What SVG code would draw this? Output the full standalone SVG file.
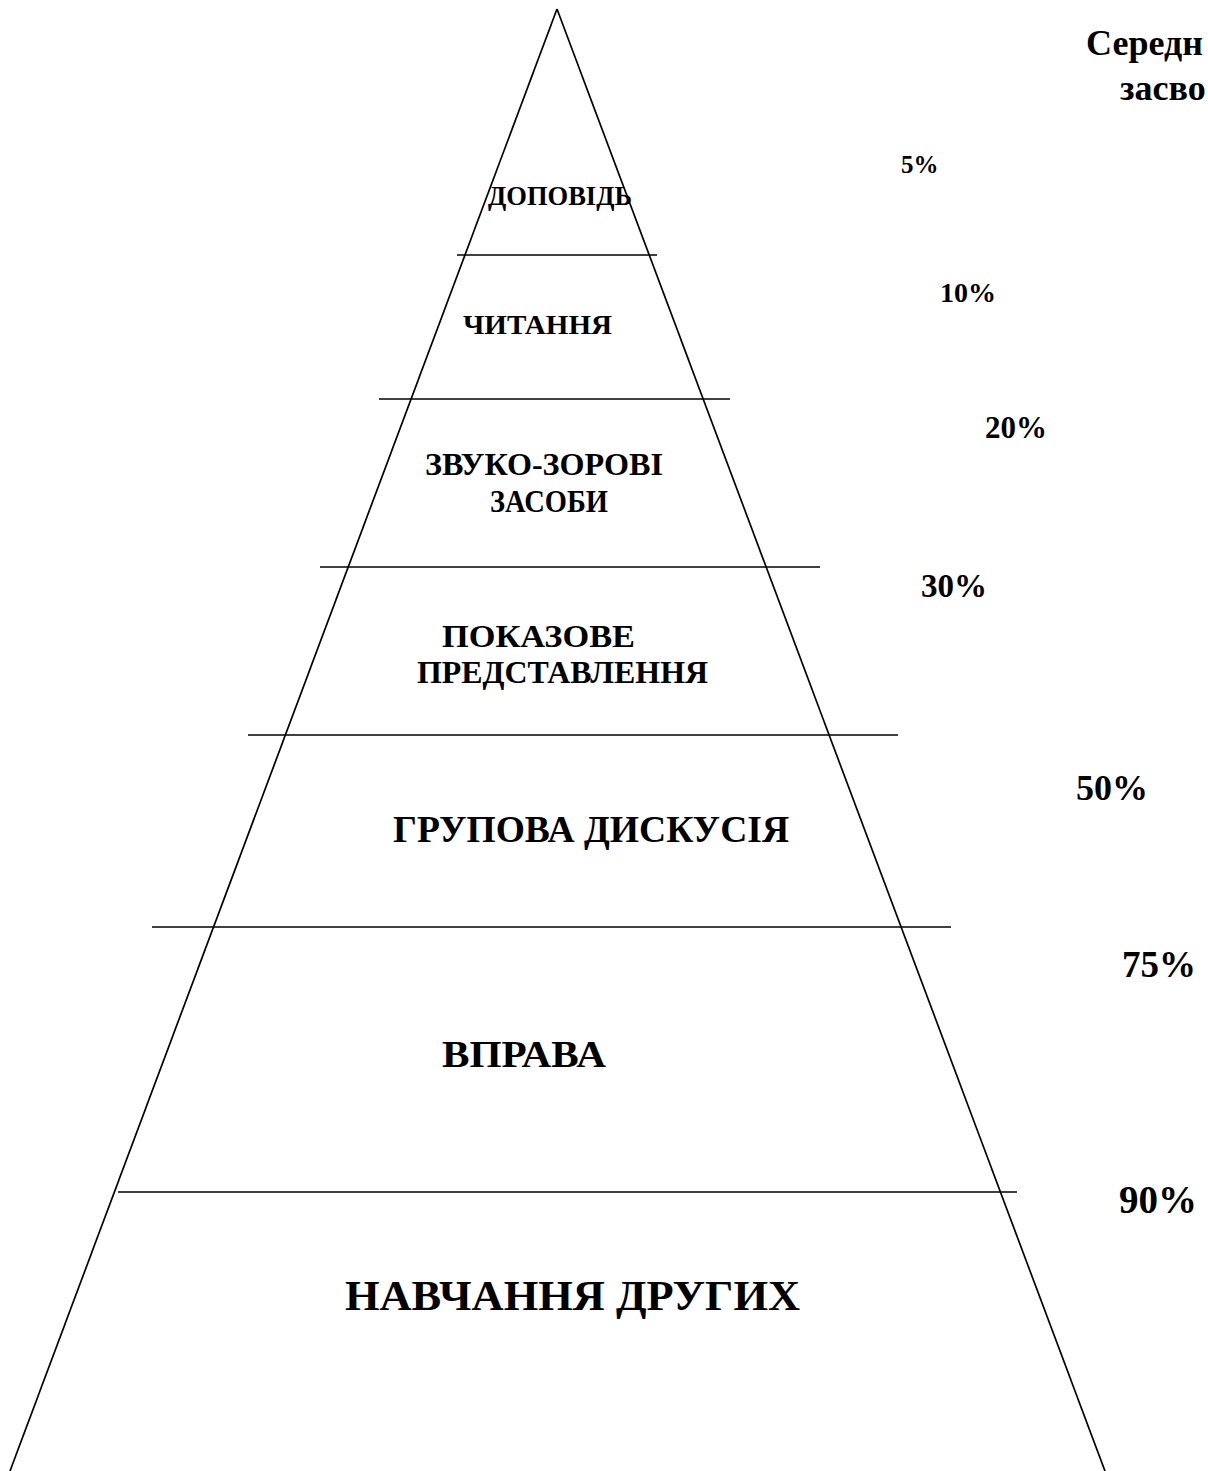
<svg xmlns="http://www.w3.org/2000/svg" width="1208" height="1471" viewBox="0 0 1208 1471">
<style>
text{font-family:"Liberation Serif","Times New Roman",serif;font-weight:bold;fill:#000}
.ln{stroke:#000;stroke-width:1.7;fill:none}
</style>
<rect width="1208" height="1471" fill="#fff"/>
<g id="connectors">
<line class="ln" x1="557" y1="9" x2="10" y2="1471"/>
<line class="ln" x1="557" y1="9" x2="1105" y2="1471"/>
<line class="ln" x1="457" y1="255" x2="657" y2="255"/>
<line class="ln" x1="379" y1="399" x2="730" y2="399"/>
<line class="ln" x1="320" y1="567" x2="820" y2="567"/>
<line class="ln" x1="248" y1="735" x2="898" y2="735"/>
<line class="ln" x1="152" y1="927" x2="951" y2="927"/>
<line class="ln" x1="118" y1="1192" x2="1017" y2="1192"/>
</g>
<g id="header">
<text x="1086" y="55" font-size="36">Середн</text>
<text x="1120" y="100" font-size="36">засво</text>
</g>
<g id="level1"><text x="488" y="205" font-size="27" textLength="144" lengthAdjust="spacingAndGlyphs">ДОПОВІДЬ</text></g>
<g id="level2"><text x="463" y="334" font-size="28" textLength="149" lengthAdjust="spacingAndGlyphs">ЧИТАННЯ</text></g>
<g id="level3"><text x="425" y="475" font-size="31" textLength="238" lengthAdjust="spacingAndGlyphs">ЗВУКО-ЗОРОВІ</text><text x="490" y="512" font-size="31" textLength="118" lengthAdjust="spacingAndGlyphs">ЗАСОБИ</text></g>
<g id="level4"><text x="442" y="647" font-size="32" textLength="193" lengthAdjust="spacingAndGlyphs">ПОКАЗОВЕ</text><text x="417" y="683" font-size="32" textLength="291" lengthAdjust="spacingAndGlyphs">ПРЕДСТАВЛЕННЯ</text></g>
<g id="level5"><text x="393" y="842" font-size="37" textLength="396" lengthAdjust="spacingAndGlyphs">ГРУПОВА ДИСКУСІЯ</text></g>
<g id="level6"><text x="442" y="1067" font-size="38" textLength="164" lengthAdjust="spacingAndGlyphs">ВПРАВА</text></g>
<g id="level7"><text x="345" y="1310" font-size="43" textLength="455" lengthAdjust="spacingAndGlyphs">НАВЧАННЯ ДРУГИХ</text></g>
<g id="percents">
<text x="901" y="173" font-size="25">5%</text>
<text x="940" y="302" font-size="28">10%</text>
<text x="985" y="438" font-size="31">20%</text>
<text x="921" y="597" font-size="33">30%</text>
<text x="1076" y="800" font-size="36">50%</text>
<text x="1122" y="977" font-size="37">75%</text>
<text x="1119" y="1213" font-size="39">90%</text>
</g>
</svg>
